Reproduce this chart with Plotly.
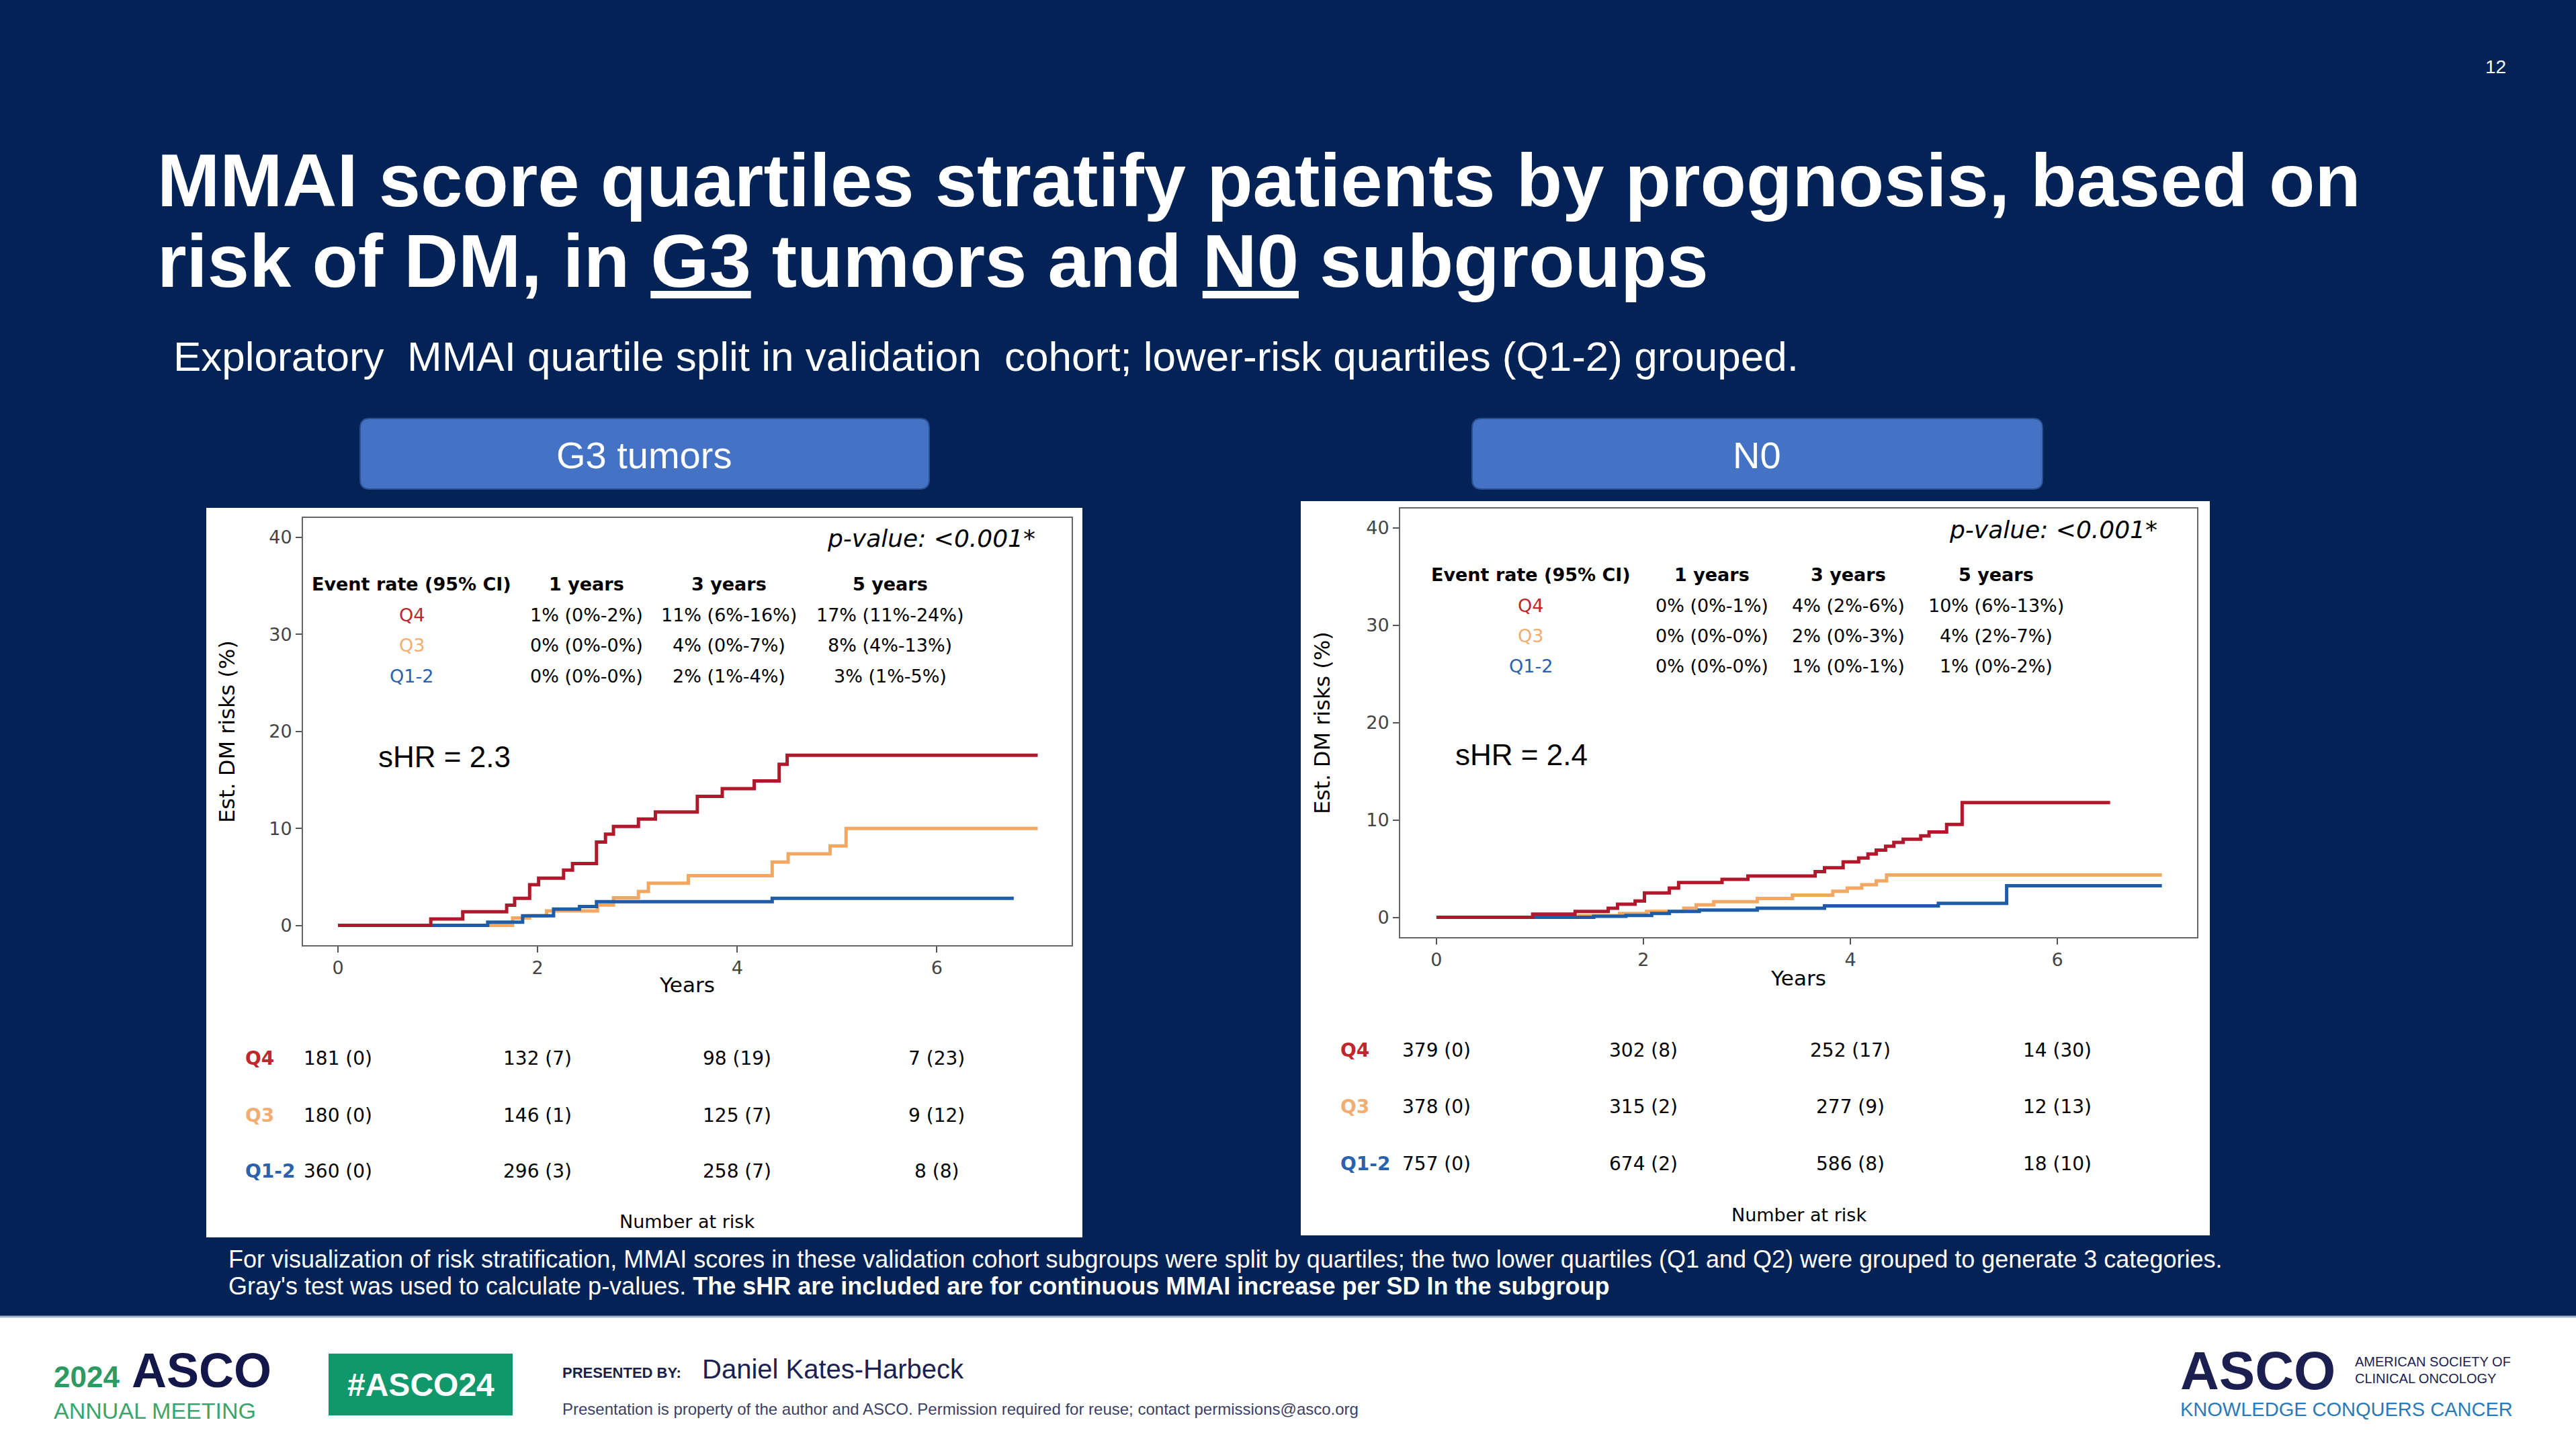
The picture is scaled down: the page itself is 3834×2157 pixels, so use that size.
import plotly.graph_objects as go

W, H = 3834, 2157

# ---------------- data ----------------
years_ticks = [0, 2, 4, 6]
risk_ticks = [0, 10, 20, 30, 40]
groups = ["Q4", "Q3", "Q1-2"]
rate_cols = ["1 years", "3 years", "5 years"]

# G3 tumors cumulative incidence (step times, values %)
g3_q4_t = [0, 0.93, 1.25, 1.69, 1.77, 1.92, 2.01, 2.26, 2.35, 2.59, 2.68, 2.76, 3.01, 3.18, 3.60, 3.85, 4.17, 4.42, 4.50, 7.01]
g3_q4_v = [0, 0.67, 1.41, 2.08, 2.79, 4.2, 4.87, 5.7, 6.38, 8.6, 9.4, 10.2, 10.97, 11.7, 13.3, 14.1, 14.9, 16.6, 17.55, 17.55]
g3_q3_t = [0, 1.75, 1.92, 2.09, 2.60, 2.76, 3.01, 3.11, 3.51, 4.35, 4.51, 4.93, 5.09, 7.01]
g3_q3_v = [0, 0.77, 1.0, 1.5, 2.1, 2.85, 3.5, 4.36, 5.13, 6.54, 7.38, 8.2, 10.0, 10.0]
g3_q12_t = [0, 1.50, 1.85, 2.16, 2.42, 2.59, 4.35, 6.77]
g3_q12_v = [0, 0.34, 1.0, 1.68, 1.95, 2.45, 2.79, 2.79]

# N0 cumulative incidence
n0_q4_t = [0, 0.93, 1.34, 1.66, 1.75, 1.92, 2.01, 2.25, 2.34, 2.76, 3.01, 3.66, 3.75, 3.93, 4.08, 4.17, 4.25, 4.34, 4.42, 4.51, 4.68, 4.76, 4.93, 5.08, 6.51]
n0_q4_v = [0, 0.33, 0.6, 0.94, 1.34, 1.67, 2.5, 3.0, 3.58, 3.9, 4.25, 4.7, 5.1, 5.7, 6.1, 6.5, 6.9, 7.3, 7.7, 8.03, 8.37, 8.77, 9.54, 11.78, 11.78]
n0_q3_t = [0, 1.38, 1.77, 2.03, 2.39, 2.51, 2.68, 3.10, 3.44, 3.83, 3.97, 4.11, 4.25, 4.35, 7.01]
n0_q3_v = [0, 0.17, 0.4, 0.6, 0.94, 1.27, 1.6, 1.94, 2.28, 2.68, 3.0, 3.35, 3.75, 4.35, 4.35]
n0_q12_t = [0, 1.52, 1.83, 2.08, 2.25, 2.54, 3.10, 3.75, 4.85, 5.51, 7.01]
n0_q12_v = [0, 0.1, 0.2, 0.4, 0.6, 0.74, 0.94, 1.17, 1.44, 3.25, 3.25]

# event-rate tables
g3_rate_q4 = ["1% (0%-2%)", "11% (6%-16%)", "17% (11%-24%)"]
g3_rate_q3 = ["0% (0%-0%)", "4% (0%-7%)", "8% (4%-13%)"]
g3_rate_q12 = ["0% (0%-0%)", "2% (1%-4%)", "3% (1%-5%)"]
n0_rate_q4 = ["0% (0%-1%)", "4% (2%-6%)", "10% (6%-13%)"]
n0_rate_q3 = ["0% (0%-0%)", "2% (0%-3%)", "4% (2%-7%)"]
n0_rate_q12 = ["0% (0%-0%)", "1% (0%-1%)", "1% (0%-2%)"]

# number at risk (events)
g3_risk_q4 = ["181 (0)", "132 (7)", "98 (19)", "7 (23)"]
g3_risk_q3 = ["180 (0)", "146 (1)", "125 (7)", "9 (12)"]
g3_risk_q12 = ["360 (0)", "296 (3)", "258 (7)", "8 (8)"]
n0_risk_q4 = ["379 (0)", "302 (8)", "252 (17)", "14 (30)"]
n0_risk_q3 = ["378 (0)", "315 (2)", "277 (9)", "12 (13)"]
n0_risk_q12 = ["757 (0)", "674 (2)", "586 (8)", "18 (10)"]

g3_shr = "sHR = 2.3"
n0_shr = "sHR = 2.4"
p_text = "p-value: &lt;0.001*"

# ---------------- styling ----------------
NAVY = "#032357"
C_Q4 = "#b2182b"
C_Q3 = "#f2a862"
C_Q12 = "#1f5ca8"
T_Q4 = "#c0272d"
T_Q3 = "#f2ae72"
T_Q12 = "#2a62ad"
SANS = "Liberation Sans, Arial, sans-serif"
MPL = "DejaVu Sans, sans-serif"


def px(x):
    return x / W


def py(y):
    return 1 - y / H


fig = go.Figure()

curves = [
    ("x", "y", g3_q3_t, g3_q3_v, C_Q3),
    ("x", "y", g3_q12_t, g3_q12_v, C_Q12),
    ("x", "y", g3_q4_t, g3_q4_v, C_Q4),
    ("x2", "y2", n0_q3_t, n0_q3_v, C_Q3),
    ("x2", "y2", n0_q12_t, n0_q12_v, C_Q12),
    ("x2", "y2", n0_q4_t, n0_q4_v, C_Q4),
]
for xa, ya, t, v, c in curves:
    fig.add_trace(go.Scatter(x=t, y=v, mode="lines", xaxis=xa, yaxis=ya,
                             line=dict(shape="hv", color=c, width=5),
                             hoverinfo="skip", showlegend=False))

shapes = []
annotations = []


def rrect(x0, y0, x1, y1, r, fill, line=None):
    path = (f"M {px(x0 + r)} {py(y0)} L {px(x1 - r)} {py(y0)} Q {px(x1)} {py(y0)} {px(x1)} {py(y0 + r)} "
            f"L {px(x1)} {py(y1 - r)} Q {px(x1)} {py(y1)} {px(x1 - r)} {py(y1)} "
            f"L {px(x0 + r)} {py(y1)} Q {px(x0)} {py(y1)} {px(x0)} {py(y1 - r)} "
            f"L {px(x0)} {py(y0 + r)} Q {px(x0)} {py(y0)} {px(x0 + r)} {py(y0)} Z")
    shapes.append(dict(type="path", xref="paper", yref="paper", path=path,
                       fillcolor=fill, line=dict(width=0 if line is None else 2, color=line or fill),
                       layer="below"))


def rect(x0, y0, x1, y1, fill, layer="below"):
    shapes.append(dict(type="rect", xref="paper", yref="paper",
                       x0=px(x0), x1=px(x1), y0=py(y1), y1=py(y0),
                       fillcolor=fill, line=dict(width=0), layer=layer))


def txt(x, y, text, size, color="white", family=SANS, xanchor="left", yanchor="middle",
        xref="paper", yref="paper", angle=0):
    if xref == "paper":
        x = px(x)
    if yref == "paper":
        y = py(y)
    annotations.append(dict(x=x, y=y, xref=xref, yref=yref, text=text, showarrow=False,
                            xanchor=xanchor, yanchor=yanchor, textangle=angle,
                            font=dict(size=size, color=color, family=family)))


# white panels
rect(307, 756, 1611, 1842, "white")
rect(1936, 746, 3289, 1839, "white")
# footer band
rect(0, 1960, W, H, "white")
shapes.append(dict(type="line", xref="paper", yref="paper", x0=0, x1=1, y0=py(1960), y1=py(1960),
                   line=dict(color="#9fb0c8", width=3)))

# buttons
rrect(536, 623, 1383, 728, 14, "#4472c4", "#2c4f8f")
rrect(2191, 623, 3040, 728, 14, "#4472c4", "#2c4f8f")
txt(959, 677, "G3 tumors", 56, xanchor="center")
txt(2615, 677, "N0", 56, xanchor="center")

# titles
txt(232, 268, "<b>MMAI score quartiles stratify patients by prognosis, based on</b>", 112)
txt(232, 388, '<b>risk of DM, in <span style="text-decoration:underline">G3</span> tumors and '
              '<span style="text-decoration:underline">N0</span> subgroups</b>', 112)
txt(256, 531, "Exploratory  MMAI quartile split in validation  cohort; lower-risk quartiles (Q1-2) grouped.", 62)
txt(3714, 100, "12", 28, xanchor="center")

# footnote
txt(338, 1874, "For visualization of risk stratification, MMAI scores in these validation cohort subgroups were split by "
               "quartiles; the two lower quartiles (Q1 and Q2) were grouped to generate 3 categories.", 36)
txt(338, 1914, "Gray's test was used to calculate p-values. <b>The sHR are included are for continuous MMAI increase "
               "per SD In the subgroup</b>", 36)

# footer logos
txt(78, 2049, "<b>2024</b>", 44, color="#2e9a63")
txt(194, 2040, "<b>ASCO</b>", 72, color="#14174a")
txt(78, 2100, "ANNUAL MEETING", 34, color="#3aa66e")
rect(489, 2015, 763, 2107, "#10986b")
txt(626, 2061, "<b>#ASCO24</b>", 48, xanchor="center")
txt(835, 2043, "<b>PRESENTED BY:</b>", 22, color="#1b1f4b")
txt(1043, 2038, "Daniel Kates-Harbeck", 40, color="#1d2152")
txt(835, 2097, "Presentation is property of the author and ASCO. Permission required for reuse; contact permissions@asco.org",
    24, color="#3b3f66")
txt(3243, 2040, "<b>ASCO</b>", 80, color="#1b2050")
txt(3503, 2027, "AMERICAN SOCIETY OF", 20, color="#1b2050")
txt(3503, 2052, "CLINICAL ONCOLOGY", 20, color="#1b2050")
txt(3243, 2098, "KNOWLEDGE CONQUERS CANCER", 29, color="#2a7ab8")

# ---------------- chart panels ----------------
panels = [
    dict(xa="x", ya="y", rates=[g3_rate_q4, g3_rate_q3, g3_rate_q12],
         risks=[g3_risk_q4, g3_risk_q3, g3_risk_q12], shr=g3_shr,
         col_x=[0.74, 2.49, 3.92, 5.53], row_y=[35.2, 32.0, 28.9, 25.7],
         shr_xy=(0.39, 17.4), p_xy=(7.0, 39.9),
         risk_rows=[1575, 1660, 1743], risk_label_x=363, nar=(1022, 1818),
         years=(1022, 1466), ylab=(338, 1089)),
    dict(xa="x2", ya="y2", rates=[n0_rate_q4, n0_rate_q3, n0_rate_q12],
         risks=[n0_risk_q4, n0_risk_q3, n0_risk_q12], shr=n0_shr,
         col_x=[0.91, 2.66, 3.98, 5.41], row_y=[35.2, 32.0, 28.9, 25.8],
         shr_xy=(0.17, 16.7), p_xy=(6.98, 39.8),
         risk_rows=[1563, 1647, 1732], risk_label_x=1993, nar=(2677, 1808),
         years=(2676, 1456), ylab=(1968, 1076)),
]
grp_colors = [T_Q4, T_Q3, T_Q12]

for p in panels:
    xa, ya = p["xa"], p["ya"]
    # event rate table
    txt(p["col_x"][0], p["row_y"][0], "<b>Event rate (95% CI)</b>", 27, color="black", family=MPL,
        xanchor="center", xref=xa, yref=ya)
    for j, col in enumerate(rate_cols):
        txt(p["col_x"][j + 1], p["row_y"][0], f"<b>{col}</b>", 27, color="black", family=MPL,
            xanchor="center", xref=xa, yref=ya)
    for i, g in enumerate(groups):
        txt(p["col_x"][0], p["row_y"][i + 1], g, 27, color=grp_colors[i], family=MPL,
            xanchor="center", xref=xa, yref=ya)
        for j in range(3):
            txt(p["col_x"][j + 1], p["row_y"][i + 1], p["rates"][i][j], 27, color="black", family=MPL,
                xanchor="center", xref=xa, yref=ya)
    # p-value and sHR
    txt(p["p_xy"][0], p["p_xy"][1], f"<i>{p_text}</i>", 36, color="black", family=MPL,
        xanchor="right", xref=xa, yref=ya)
    txt(p["shr_xy"][0], p["shr_xy"][1], p["shr"], 44, color="black", family=SANS,
        xanchor="left", xref=xa, yref=ya)
    # axis titles
    txt(p["years"][0], p["years"][1], "Years", 31, color="black", family=MPL, xanchor="center")
    txt(p["ylab"][0], p["ylab"][1], "Est. DM risks (%)", 32, color="black", family=MPL,
        xanchor="center", angle=-90)
    # number at risk table
    for i, g in enumerate(groups):
        ry = p["risk_rows"][i]
        txt(p["risk_label_x"], ry, f"<b>{g}</b>", 28, color=grp_colors[i], family=MPL)
        for k, t in enumerate(years_ticks):
            txt(t, ry, p["risks"][i][k], 28, color="black", family=MPL, xanchor="center",
                xref=xa, yref="paper")
    txt(p["nar"][0], p["nar"][1], "Number at risk", 27, color="black", family=MPL, xanchor="center")

axis_common = dict(showgrid=False, zeroline=False, showline=True, mirror=True,
                   linecolor="#666666", linewidth=2, ticks="outside", ticklen=9,
                   tickwidth=2, tickcolor="#555555",
                   tickfont=dict(size=27, color="#444444", family=MPL))

fig.update_layout(
    width=W, height=H,
    margin=dict(l=0, r=0, t=0, b=0),
    paper_bgcolor=NAVY, plot_bgcolor="white",
    showlegend=False,
    shapes=shapes, annotations=annotations,
    xaxis=dict(domain=[px(451), px(1595)], range=[-0.35, 7.35], tickvals=years_ticks, anchor="y", **axis_common),
    yaxis=dict(domain=[py(1406.5), py(771)], range=[-2, 42], tickvals=risk_ticks, anchor="x", **axis_common),
    xaxis2=dict(domain=[px(2084), px(3270)], range=[-0.35, 7.35], tickvals=years_ticks, anchor="y2", **axis_common),
    yaxis2=dict(domain=[py(1394.5), py(757)], range=[-2, 42], tickvals=risk_ticks, anchor="x2", **axis_common),
)

fig.write_html("out.html", config={"displayModeBar": False},
               post_script="document.body.style.margin='0';document.body.style.padding='0';"
                           "document.body.style.overflow='hidden';document.body.style.background='#032357';")
